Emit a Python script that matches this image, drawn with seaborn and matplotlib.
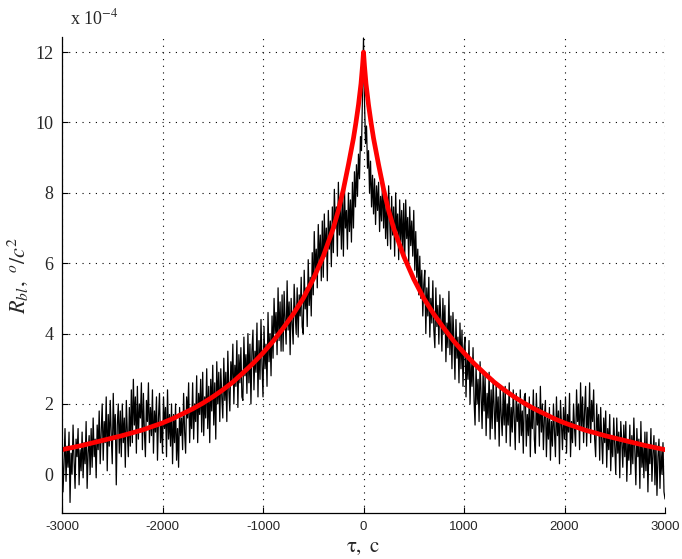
import numpy as np
import pandas as pd
import matplotlib
matplotlib.use("Agg")
import matplotlib.pyplot as plt
import seaborn as sns

# ---- data (values in units of 1e-4) ----
tau_noisy = list(range(-3000, 3001, 10))
r_noisy = [
    # -3000 .. -10
    1.1, -0.5, 0.3, 1.3, -0.2, 0.8, 0.2, 1.2, -0.8, 0.6,
    0.0, 1.4, 0.4, -0.4, 1.0, 0.5, 1.3, -0.3, 0.7, 0.1,
    1.2, -0.1, 0.9, 0.3, 1.5, -0.4, 0.6, 1.1, 0.0, 1.3,
    0.2, 1.6, 0.5, 1.0, -0.1, 1.4, 0.7, 1.8, 0.3, 1.2,
    2.0, 0.4, 1.5, 0.9, 2.2, 0.1, 1.7, 0.8, 2.1, 1.1,
    0.3, 2.3, 1.0, 1.7, -0.3, 1.4, 2.0, 0.6, 1.8, 0.5,
    2.0, 0.9, 1.6, 0.2, 2.1, 1.2, 0.5, 1.9, 0.8, 2.4,
    0.9, 2.7, 1.4, 2.2, 0.6, 2.5, 1.0, 2.0, 1.6, 2.6,
    0.7, 2.3, 1.2, 0.5, 2.1, 1.5, 2.6, 0.9, 1.9, 1.1,
    2.4, 0.6, 1.8, 1.2, 2.2, 0.4, 1.6, 2.3, 0.9, 1.5,
    0.6, 2.2, 1.3, 1.9, 0.5, 2.4, 1.0, 1.7, 0.8, 2.0,
    0.3, 1.7, 0.9, 2.0, 0.4, 1.3, 0.2, 1.9, 1.1, 1.6,
    0.7, 2.3, 1.2, 0.6, 2.2, 1.6, 2.6, 0.9, 1.8, 1.3,
    2.6, 1.0, 2.0, 1.5, 2.8, 0.9, 2.3, 1.7, 2.7, 1.2,
    2.9, 1.1, 2.2, 1.6, 3.0, 1.3, 2.5, 0.9, 2.7, 1.8,
    3.1, 1.4, 2.6, 1.0, 3.2, 2.0, 2.9, 1.5, 3.0, 2.2,
    1.6, 3.3, 2.1, 2.9, 1.5, 3.5, 2.4, 1.8, 3.2, 2.6,
    3.7, 2.0, 3.1, 2.5, 3.8, 1.9, 3.4, 2.6, 3.6, 2.2,
    2.1, 3.9, 2.8, 3.4, 2.3, 4.0, 2.6, 3.7, 2.0, 3.5,
    4.1, 2.4, 3.5, 2.9, 4.3, 2.2, 3.8, 2.7, 4.4, 3.1,
    2.2, 4.2, 3.0, 3.7, 2.5, 4.6, 3.2, 4.0, 2.8, 4.5,
    3.3, 5.0, 4.0, 4.6, 3.4, 5.3, 3.8, 4.9, 3.5, 5.1,
    3.5, 5.2, 4.4, 3.7, 5.5, 4.1, 4.9, 3.4, 5.0, 4.3,
    3.7, 5.4, 4.6, 4.0, 5.3, 3.9, 5.1, 4.5, 5.6, 4.2,
    4.0, 5.8, 4.7, 5.3, 4.2, 6.1, 4.8, 5.6, 4.5, 6.3,
    5.1, 6.9, 5.7, 6.4, 5.3, 7.1, 5.9, 6.8, 5.5, 7.2,
    5.6, 7.4, 6.2, 7.0, 5.5, 7.5, 6.4, 7.2, 5.9, 7.6,
    6.3, 8.1, 7.0, 7.6, 6.2, 8.3, 6.8, 7.7, 6.4, 8.0,
    6.2, 8.2, 7.0, 7.5, 6.4, 8.0, 6.9, 7.8, 6.6, 8.3,
    7.0, 8.6, 7.6, 8.8, 7.9, 9.1, 8.4, 9.6, 9.2, 10.8,
    # 0
    12.4,
    # 10 .. 3000
    10.6, 9.4, 9.9, 8.7, 9.2, 8.0, 8.9, 7.6, 8.5, 7.4,
    8.4, 7.1, 8.2, 7.5, 8.3, 6.9, 7.9, 7.2, 8.4, 7.0,
    8.1, 6.7, 7.7, 6.5, 8.2, 7.3, 6.4, 7.9, 6.8, 7.6,
    6.2, 8.0, 6.9, 7.4, 6.1, 7.8, 6.6, 7.5, 6.3, 7.7,
    6.1, 7.8, 6.7, 7.3, 6.0, 7.6, 6.5, 7.2, 6.2, 7.5,
    5.8, 6.9, 5.6, 6.4, 5.1, 6.2, 5.0, 5.8, 4.5, 5.4,
    5.8, 4.0, 5.3, 4.5, 5.6, 3.9, 5.0, 4.3, 5.5, 4.1,
    3.6, 5.3, 4.2, 4.8, 3.7, 5.1, 4.4, 3.5, 5.0, 4.0,
    4.8, 3.2, 4.3, 3.6, 5.2, 3.4, 4.5, 3.0, 4.6, 3.8,
    2.7, 4.4, 3.3, 3.9, 2.6, 4.3, 3.0, 4.1, 2.5, 3.6,
    3.9, 2.2, 3.4, 2.7, 3.8, 2.0, 3.2, 2.5, 3.6, 2.1,
    1.4, 3.1, 2.0, 2.7, 1.5, 3.2, 2.2, 1.3, 2.9, 1.8,
    2.8, 1.1, 2.3, 1.6, 2.9, 1.0, 2.4, 1.3, 2.7, 1.9,
    1.0, 2.6, 1.5, 2.2, 0.8, 2.5, 1.7, 1.1, 2.4, 1.4,
    2.5, 0.9, 2.0, 1.4, 2.6, 0.8, 1.9, 1.2, 2.4, 1.6,
    0.7, 2.3, 1.5, 2.0, 0.9, 2.4, 1.1, 1.8, 0.6, 2.2,
    2.3, 0.8, 1.7, 1.1, 2.2, 0.5, 1.9, 1.3, 2.4, 1.0,
    0.6, 2.3, 1.4, 1.9, 0.8, 2.5, 1.2, 2.0, 0.7, 1.6,
    2.1, 0.5, 1.6, 1.0, 1.9, 0.4, 1.5, 0.8, 2.0, 1.2,
    0.5, 2.2, 1.1, 1.8, 0.3, 2.1, 1.4, 0.7, 1.9, 1.0,
    2.2, 0.6, 1.7, 1.2, 2.3, 0.5, 1.5, 0.9, 2.0, 1.3,
    0.8, 2.4, 1.5, 2.0, 0.7, 2.6, 1.3, 2.2, 0.9, 1.8,
    2.5, 0.8, 1.9, 1.3, 2.6, 0.9, 2.1, 1.5, 2.4, 1.0,
    0.5, 2.0, 1.2, 1.7, 0.4, 1.9, 1.0, 0.3, 1.6, 0.9,
    1.8, 0.2, 1.3, 0.7, 1.7, 0.1, 1.1, 0.5, 1.6, 0.8,
    0.0, 1.6, 0.6, 1.2, -0.1, 1.5, 0.9, 0.2, 1.4, 0.5,
    1.5, -0.2, 0.9, 0.4, 1.4, 0.0, 1.1, 0.3, 1.6, 0.6,
    -0.3, 1.3, 0.5, 1.0, -0.4, 1.5, 0.2, 0.8, -0.1, 1.2,
    0.1, 1.2, -0.5, 0.8, 0.3, 1.3, -0.2, 0.6, 1.1, -0.3,
    0.9, -0.6, 0.5, 1.0, -0.4, 0.7, 0.0, 0.9, -0.5, -0.7,
]

tau_fit = [-3000, -2800, -2600, -2400, -2200, -2000, -1900, -1800, -1700, -1600,
           -1500, -1400, -1300, -1200, -1100, -1000, -900, -800, -700, -600,
           -500, -400, -300, -250, -200, -150, -100, -75, -50, -25, -10, 0,
           10, 25, 50, 75, 100, 150, 200, 250, 300, 400, 500, 600, 700, 800,
           900, 1000, 1100, 1200, 1300, 1400, 1500, 1600, 1700, 1800, 1900,
           2000, 2200, 2400, 2600, 2800, 3000]
r_fit = [0.70, 0.82, 0.96, 1.10, 1.26, 1.46, 1.58, 1.72, 1.86, 2.02,
         2.20, 2.40, 2.62, 2.88, 3.15, 3.45, 3.78, 4.15, 4.55, 5.00,
         5.55, 6.20, 7.00, 7.50, 8.10, 8.80, 9.55, 10.0, 10.5, 11.1, 11.6, 12.0,
         11.6, 11.1, 10.5, 10.0, 9.55, 8.80, 8.10, 7.50, 7.00, 6.20, 5.55, 5.00, 4.55, 4.15,
         3.78, 3.45, 3.15, 2.88, 2.62, 2.40, 2.20, 2.02, 1.86, 1.72, 1.58,
         1.46, 1.26, 1.10, 0.96, 0.82, 0.70]

x_ticks = [-3000, -2000, -1000, 0, 1000, 2000, 3000]
y_ticks = [0, 2, 4, 6, 8, 10, 12]

df_noisy = pd.DataFrame({"tau": tau_noisy, "r": r_noisy})
df_fit = pd.DataFrame({"tau": tau_fit, "r": r_fit})

sns.set_style("white")
plt.rcParams["font.family"] = ["Liberation Serif", "DejaVu Serif"]
plt.rcParams["mathtext.fontset"] = "stix"

fig = plt.figure(figsize=(6.82, 5.59), dpi=100)
ax = fig.add_axes([62 / 682, 1 - 513 / 559, (665 - 62) / 682, (513 - 37) / 559])

sns.lineplot(data=df_noisy, x="tau", y="r", ax=ax, color="black", lw=0.9,
             estimator=None, sort=False)
sns.lineplot(data=df_fit, x="tau", y="r", ax=ax, color="#ff0000", lw=3.4,
             estimator=None, sort=False)

ax.set_xlim(-3000, 3000)
ax.set_ylim(-1.1, 12.43)
ax.set_xticks(x_ticks)
ax.set_yticks(y_ticks)
ax.set_xticklabels([str(v) for v in x_ticks], family="Liberation Sans", fontsize=9.5)
ax.set_yticklabels([str(v) for v in y_ticks], fontsize=13)
ax.grid(True, color="black", linestyle=(0, (1, 5)), linewidth=0.8)
ax.tick_params(direction="in", length=4, width=0.8, color="black",
               left=True, bottom=True, pad=6)
for s in ["top", "right"]:
    ax.spines[s].set_visible(False)
for s in ["left", "bottom"]:
    ax.spines[s].set_color("black")
    ax.spines[s].set_linewidth(0.9)

ax.set_xlabel("")
ax.set_ylabel(r"$R_{bl},\ {}^{o}/c^{2}$", fontsize=16, labelpad=4)
fig.text(70 / 682, 1 - 18 / 559, r"x 10$^{-4}$", fontsize=13, va="center", ha="left")
fig.text(363 / 682, 2 / 559, r"$\mathrm{\tau,\ c}$", fontsize=15, va="bottom", ha="center")

fig.savefig("out.png", dpi=100)
